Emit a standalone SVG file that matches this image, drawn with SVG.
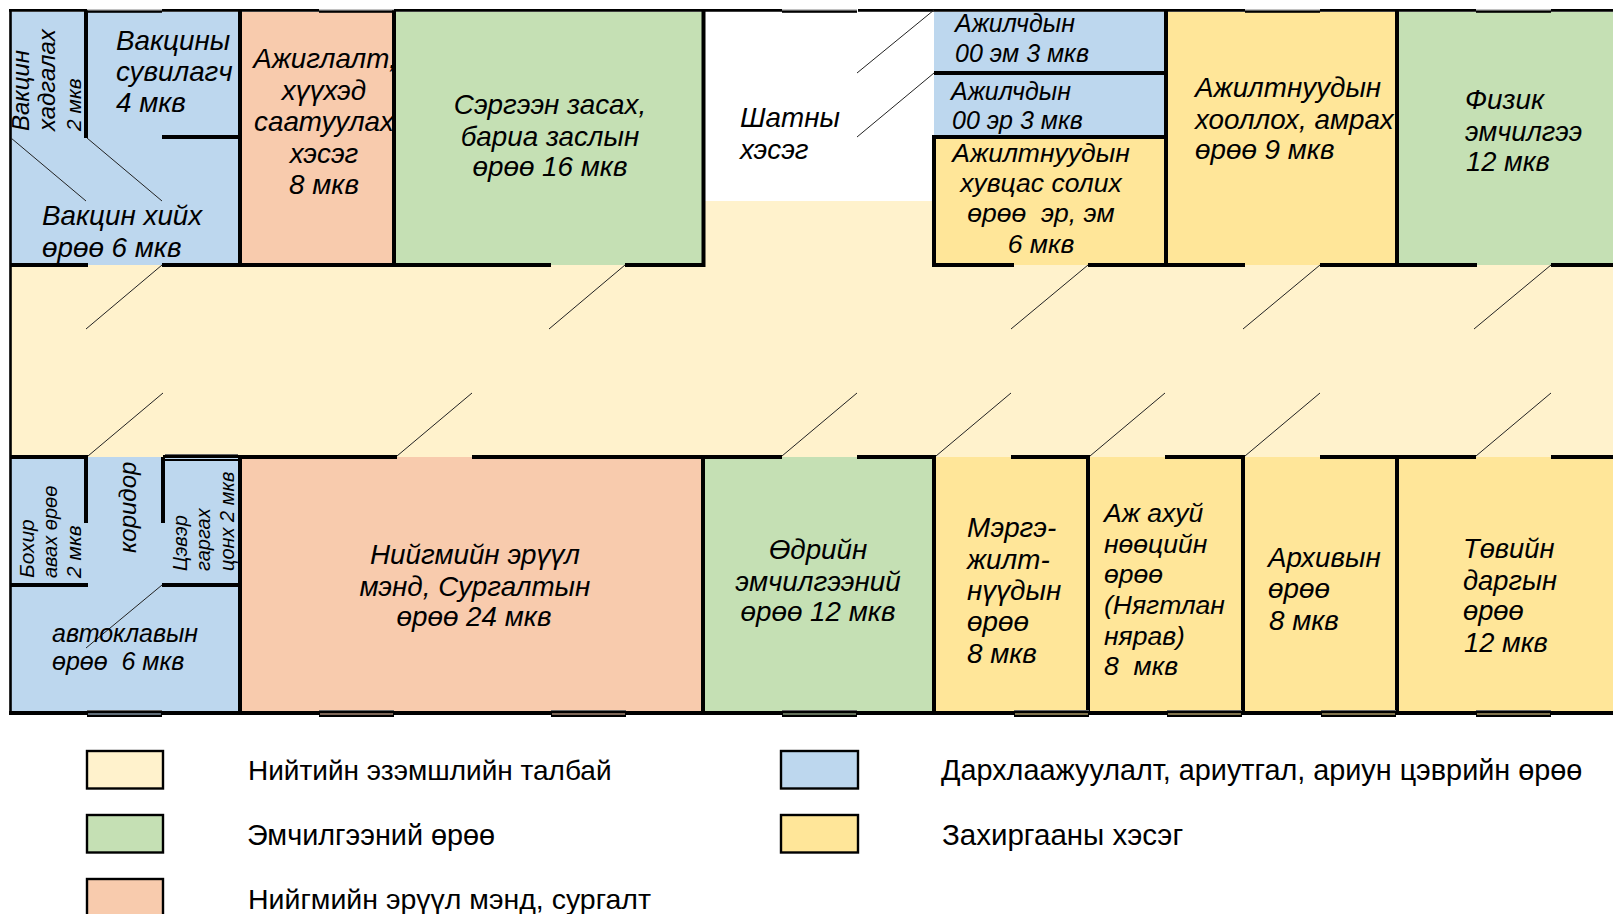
<svg xmlns="http://www.w3.org/2000/svg" width="1613" height="914" viewBox="0 0 1613 914">
<style>
text{font-family:"Liberation Sans",Arial,sans-serif;fill:#000;white-space:pre}
.r{font-style:italic;font-size:27.800px}
.s{font-style:italic;font-size:25px}
.t{font-style:italic;font-size:26.500px}
.v{font-style:italic;font-size:24px}
.u{font-style:italic;font-size:21px}
.x{font-style:italic;font-size:20px}
.n{font-style:italic;font-size:26.500px}
.l{font-size:28.800px}
.w{stroke:#000;stroke-width:4;fill:none}
.o{stroke:#000;stroke-width:2.600;fill:none}
.d{stroke:#222;stroke-width:1;fill:none}
.cr{fill:#FFF2CC}.bl{fill:#BDD7EE}.gr{fill:#C5E0B4}.sa{fill:#F8CBAD}.ye{fill:#FFE699}
.sw{stroke:#000;stroke-width:2.400}
.wb{fill:#000}.wg{fill:#666}
</style>
<defs>
<g id="win"><rect class="wg" x="0" y="710" width="75" height="1.200"/><rect class="wb" x="0" y="711" width="75" height="6"/></g>
<g id="wint"><rect class="wg" x="0" y="9.600" width="75" height="1"/><rect class="wb" x="0" y="10.600" width="75" height="2.200"/></g>
</defs>
<rect width="1613" height="914" fill="#fff"/>
<g id="fills">
<rect class="cr" x="10" y="265" width="1603" height="192"/>
<rect class="cr" x="703" y="201" width="232" height="64"/>
<rect class="bl" x="10" y="12" width="230" height="253"/>
<rect class="sa" x="240" y="12" width="154" height="253"/>
<rect class="gr" x="394" y="12" width="310" height="253"/>
<rect class="bl" x="934" y="12" width="232" height="125"/>
<rect class="ye" x="934" y="137" width="232" height="128"/>
<rect class="ye" x="1166" y="12" width="231" height="253"/>
<rect class="gr" x="1397" y="12" width="216" height="253"/>
<rect class="bl" x="10" y="457" width="230" height="256"/>
<rect class="sa" x="240" y="457" width="463" height="256"/>
<rect class="gr" x="703" y="457" width="231" height="256"/>
<rect class="ye" x="934" y="457" width="679" height="256"/>
</g>
<g id="walls">
<path class="o" d="M10.500 9V714.500M9 10.400H87M162 10.400H319M394 10.400H782M858 10.400H1245M1320 10.400H1476M1551 10.400H1613"/>
<path class="w" d="M86 10V138M162 137H240M240 10V265M394 10V265M703.500 10V267M934 135V267M934 73H1166M934 137H1166M1166 10V265M1397 10V265"/>
<path class="w" d="M10 265H88M162 265H551M625 265H705M932 265H1014M1088 265H1245M1320 265H1477M1551 265H1613"/>
<path class="w" d="M10 457H88M163 457H397M472 457H782M857 457H936M1011 457H1090M1165 457H1245M1320 457H1476M1551 457H1613"/>
<path class="w" d="M86 457V523M163 457V523M10 585H88M162 585H240M240 457V713M703 457V713M934 457V713M1088 457V713M1243 457V713M1397 457V713"/>
<path class="w" d="M9 713H1613"/>
</g>
<g id="windows">
<use href="#wint" x="87"/><use href="#wint" x="319"/><use href="#wint" x="782"/><use href="#wint" x="1245"/><use href="#wint" x="1476"/>
<rect class="wg" x="165" y="454" width="73" height="1.200"/><rect class="wb" x="165" y="455" width="73" height="6"/><rect class="bl" x="165" y="458" width="73" height="1"/>
<use href="#win" x="87"/><rect class="bl" x="88" y="713.500" width="73" height="1"/>
<use href="#win" x="319"/><rect class="sa" x="320" y="713.500" width="73" height="1"/>
<use href="#win" x="551"/><rect class="sa" x="552" y="713.500" width="73" height="1"/>
<use href="#win" x="782"/><rect class="gr" x="783" y="713.500" width="73" height="1"/>
<use href="#win" x="1014"/><rect class="ye" x="1015" y="713.500" width="73" height="1"/>
<use href="#win" x="1167"/><rect class="ye" x="1168" y="713.500" width="73" height="1"/>
<use href="#win" x="1321"/><rect class="ye" x="1322" y="713.500" width="73" height="1"/>
<use href="#win" x="1476"/><rect class="ye" x="1477" y="713.500" width="73" height="1"/>
</g>
<g id="connectors" class="d">
<path d="M162 265L86 329M625 265L549 329M1088 265L1011 329M1320 265L1243 329M1551 265L1474 329"/>
<path d="M934 10L857 73M934 73L857 137"/>
<path d="M11 138L86 201M87 138L162 201"/>
<path d="M88 456L163 393M397 456L472 393M782 456L857 393M936 456L1011 393M1090 456L1165 393M1245 456L1320 393M1476 456L1551 393"/>
<path d="M162 585L86 648"/>
</g>
<g id="labels">
<g id="r1"><text class="v" transform="translate(29 131) rotate(-90)">Вакцин</text><text class="v" transform="translate(55 131) rotate(-90)">хадгалах</text><text class="u" transform="translate(81 131) rotate(-90)">2 мкв</text></g>
<g id="r2"><text class="r" x="116" y="50">Вакцины</text><text class="r" x="116" y="81">сувилагч</text><text class="r" x="116" y="112">4 мкв</text></g>
<g id="r3"><text class="r" x="42" y="225">Вакцин хийх</text><text class="r" x="42" y="257">өрөө 6 мкв</text></g>
<g id="r4"><text class="r" x="325" y="68" text-anchor="middle">Ажиглалт,</text><text class="r" x="324" y="100" text-anchor="middle">хүүхэд</text><text class="r" x="324" y="131" text-anchor="middle">саатуулах</text><text class="r" x="324" y="163" text-anchor="middle">хэсэг</text><text class="r" x="324" y="194" text-anchor="middle">8 мкв</text></g>
<g id="r5"><text class="r" x="550" y="114" text-anchor="middle">Сэргээн засах,</text><text class="r" x="550" y="146" text-anchor="middle">бариа заслын</text><text class="r" x="550" y="176" text-anchor="middle">өрөө 16 мкв</text></g>
<g id="r6"><text class="r" x="740" y="127">Шатны</text><text class="r" x="740" y="159">хэсэг</text></g>
<g id="r7"><text class="s" x="955" y="32">Ажилчдын</text><text class="s" x="955" y="62">00 эм 3 мкв</text></g>
<g id="r8"><text class="s" x="951" y="100">Ажилчдын</text><text class="s" x="952" y="129">00 эр 3 мкв</text></g>
<g id="r9"><text class="t" x="1041" y="162" text-anchor="middle">Ажилтнуудын</text><text class="t" x="1041" y="192" text-anchor="middle">хувцас солих</text><text class="t" x="1041" y="222" text-anchor="middle">өрөө  эр, эм</text><text class="t" x="1041" y="253" text-anchor="middle">6 мкв</text></g>
<g id="r10"><text class="r" x="1195" y="97">Ажилтнуудын</text><text class="r" x="1195" y="129">хооллох, амрах</text><text class="r" x="1195" y="159">өрөө 9 мкв</text></g>
<g id="r11"><text class="r" x="1465" y="109">Физик</text><text class="r" x="1465" y="141" style="font-size:27.300px">эмчилгээ</text><text class="r" x="1466" y="171" style="font-size:27.300px">12 мкв</text></g>
<g id="r12"><text class="u" transform="translate(34 578) rotate(-90)">Бохир</text><text class="x" transform="translate(57 578) rotate(-90)">авах өрөө</text><text class="u" transform="translate(81 578) rotate(-90)">2 мкв</text></g>
<g id="r13"><text class="v" transform="translate(136 553) rotate(-90)">коридор</text></g>
<g id="r14"><text class="x" transform="translate(187 571) rotate(-90)">Цэвэр</text><text class="x" transform="translate(210 571) rotate(-90)">гаргах</text><text class="x" transform="translate(234 571) rotate(-90)">цонх 2 мкв</text></g>
<g id="r15"><text class="s" x="52" y="642">автоклавын</text><text class="s" x="52" y="670">өрөө  6 мкв</text></g>
<g id="r16"><text class="r" x="475" y="564" text-anchor="middle">Нийгмийн эрүүл</text><text class="r" x="475" y="596" text-anchor="middle">мэнд, Сургалтын</text><text class="r" x="474" y="626" text-anchor="middle">өрөө 24 мкв</text></g>
<g id="r17"><text class="r" x="818" y="559" text-anchor="middle">Өдрийн</text><text class="r" x="818" y="591" text-anchor="middle">эмчилгээний</text><text class="r" x="818" y="621" text-anchor="middle">өрөө 12 мкв</text></g>
<g id="r18"><text class="r" x="967" y="537">Мэргэ-</text><text class="r" x="967" y="569">жилт-</text><text class="r" x="967" y="600">нүүдын</text><text class="r" x="967" y="631">өрөө</text><text class="r" x="967" y="663">8 мкв</text></g>
<g id="r19"><text class="n" x="1104" y="522">Аж ахуй</text><text class="n" x="1104" y="553">нөөцийн</text><text class="n" x="1104" y="583">өрөө</text><text class="n" x="1104" y="614">(Нягтлан</text><text class="n" x="1104" y="645">нярав)</text><text class="n" x="1104" y="675">8  мкв</text></g>
<g id="r20"><text class="r" x="1268" y="567">Архивын</text><text class="r" x="1268" y="598">өрөө</text><text class="r" x="1269" y="630">8 мкв</text></g>
<g id="r21"><text class="r" x="1463" y="558" style="font-size:27.300px">Төвийн</text><text class="r" x="1463" y="590" style="font-size:27.300px">даргын</text><text class="r" x="1463" y="620" style="font-size:27.300px">өрөө</text><text class="r" x="1464" y="652" style="font-size:27.300px">12 мкв</text></g>
</g>
<g id="legend">
<rect class="cr sw" x="87" y="751" width="76" height="37.500"/><text class="l" x="248" y="780" style="font-size:28px">Нийтийн эзэмшлийн талбай</text>
<rect class="gr sw" x="87" y="815" width="76" height="37.500"/><text class="l" x="247" y="845">Эмчилгээний өрөө</text>
<rect class="sa sw" x="87" y="879" width="76" height="38"/><text class="l" x="248" y="909" style="font-size:28.500px">Нийгмийн эрүүл мэнд, сургалт</text>
<rect class="bl sw" x="781" y="751" width="77" height="37.500"/><text class="l" x="941" y="780">Дархлаажуулалт, ариутгал, ариун цэврийн өрөө</text>
<rect class="ye sw" x="781" y="815" width="77" height="37.500"/><text class="l" x="942" y="845" style="font-size:29.500px">Захиргааны хэсэг</text>
</g>
</svg>
